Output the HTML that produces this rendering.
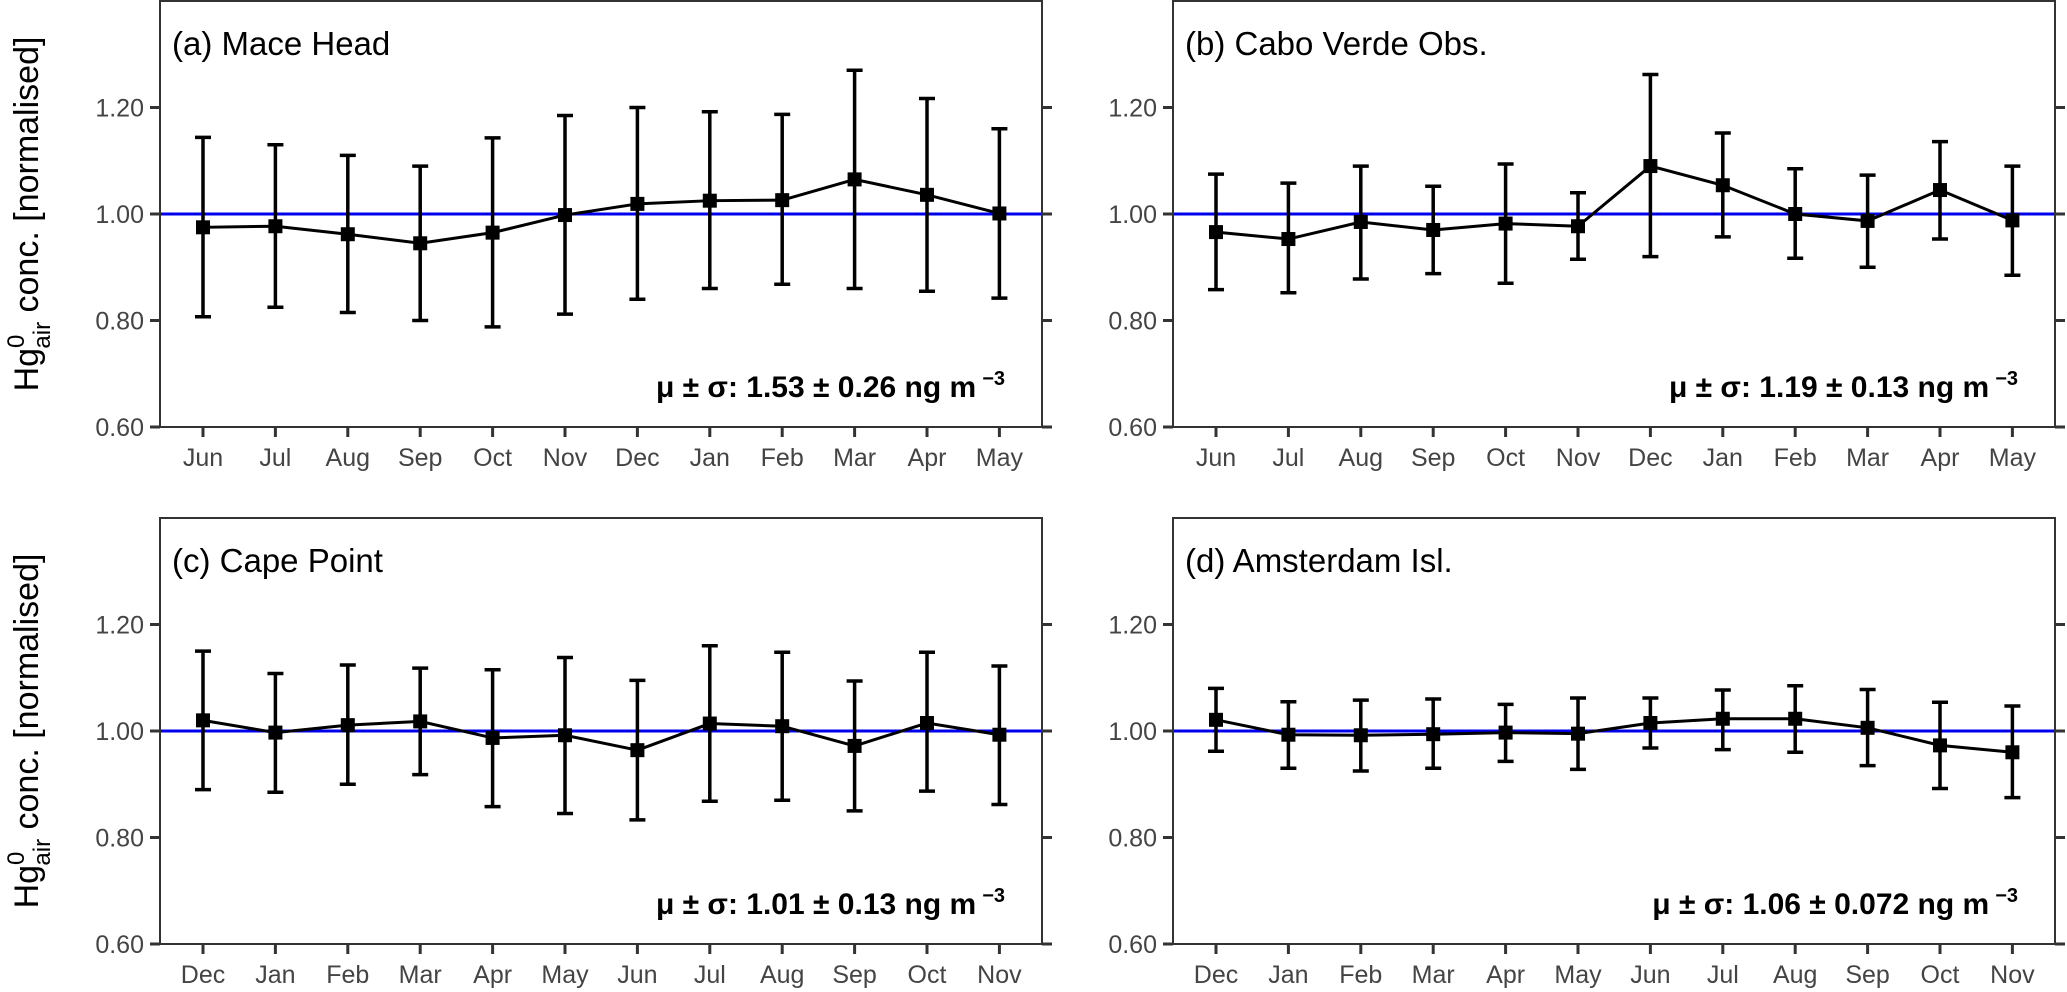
<!DOCTYPE html>
<html><head><meta charset="utf-8"><style>
html,body{margin:0;padding:0;background:#fff}
svg{display:block;font-family:"Liberation Sans",sans-serif}
</style></head><body>
<svg id="chart" width="2067" height="992" viewBox="0 0 2067 992"></svg>
<script>
const monthsA = ["Jun","Jul","Aug","Sep","Oct","Nov","Dec","Jan","Feb","Mar","Apr","May"];
const monthsC = ["Dec","Jan","Feb","Mar","Apr","May","Jun","Jul","Aug","Sep","Oct","Nov"];
const yTicks = [0.6,0.8,1.0,1.2];
const yTickLabels = ["0.60","0.80","1.00","1.20"];
const titles = ["(a) Mace Head","(b) Cabo Verde Obs.","(c) Cape Point","(d) Amsterdam Isl."];
const stats = ["μ ± σ: 1.53 ± 0.26 ng m","μ ± σ: 1.19 ± 0.13 ng m","μ ± σ: 1.01 ± 0.13 ng m","μ ± σ: 1.06 ± 0.072 ng m"];
const meanA = [0.975,0.977,0.962,0.945,0.965,0.998,1.019,1.025,1.026,1.065,1.036,1.001];
const upA = [1.144,1.13,1.11,1.09,1.143,1.185,1.20,1.192,1.187,1.27,1.217,1.16];
const loA = [0.807,0.825,0.815,0.80,0.788,0.812,0.84,0.86,0.868,0.86,0.855,0.842];
const meanB = [0.966,0.953,0.985,0.97,0.982,0.977,1.09,1.054,1.0,0.987,1.045,0.988];
const upB = [1.075,1.058,1.09,1.052,1.094,1.04,1.262,1.152,1.085,1.073,1.136,1.09];
const loB = [0.858,0.852,0.878,0.888,0.87,0.915,0.92,0.957,0.917,0.90,0.953,0.885];
const meanC = [1.02,0.997,1.011,1.018,0.987,0.992,0.964,1.014,1.009,0.972,1.015,0.993];
const upC = [1.15,1.108,1.124,1.118,1.115,1.138,1.095,1.16,1.148,1.094,1.148,1.122];
const loC = [0.89,0.885,0.90,0.918,0.858,0.845,0.833,0.868,0.87,0.85,0.887,0.862];
const meanD = [1.021,0.993,0.992,0.994,0.997,0.995,1.015,1.023,1.023,1.006,0.973,0.96];
const upD = [1.08,1.055,1.058,1.06,1.05,1.062,1.062,1.077,1.085,1.078,1.054,1.047];
const loD = [0.962,0.93,0.925,0.93,0.943,0.928,0.968,0.965,0.96,0.935,0.892,0.875];

const NS="http://www.w3.org/2000/svg";
const svg=document.getElementById('chart');
function mk(tag,attrs,parent){const e=document.createElementNS(NS,tag);for(const k in attrs)e.setAttribute(k,attrs[k]);(parent||svg).appendChild(e);return e;}

const panels=[
 {x:160,y:1,months:monthsA,m:meanA,u:upA,l:loA},
 {x:1173,y:1,months:monthsA,m:meanB,u:upB,l:loB},
 {x:160,y:518,months:monthsC,m:meanC,u:upC,l:loC},
 {x:1173,y:518,months:monthsC,m:meanD,u:upD,l:loD}
];
const W=882,H=426;
panels.forEach((p,pi)=>{
  const g=mk('g',{});
  
  
  const ys=v=>p.y+H-(v-0.6)/0.8*H;
  const xs=i=>p.x+43+i*72.4;
  const ref=mk('line',{x1:p.x,x2:p.x+W,y1:ys(1),y2:ys(1),stroke:'#0000ee','stroke-width':3},g);
  
  
  const fr=mk('rect',{x:p.x,y:p.y,width:W,height:H,fill:'none',stroke:'#333','stroke-width':2},g);
  
  
  yTicks.forEach((t,i)=>{
    mk('line',{x1:p.x-10,x2:p.x,y1:ys(t),y2:ys(t),stroke:'#333','stroke-width':3},g);
    mk('line',{x1:p.x+W,x2:p.x+W+10,y1:ys(t),y2:ys(t),stroke:'#333','stroke-width':3},g);
    const tx=mk('text',{x:p.x-16,y:ys(t)+9,'text-anchor':'end','font-size':25,fill:'#444'},g);
    tx.textContent=yTickLabels[i];
    
    
  });
  p.months.forEach((mo,i)=>{
    mk('line',{x1:xs(i),x2:xs(i),y1:p.y+H,y2:p.y+H+10,stroke:'#333','stroke-width':3},g);
    const tx=mk('text',{x:xs(i),y:p.y+H+39,'text-anchor':'middle','font-size':25,fill:'#444'},g);
    tx.textContent=mo;
    
    
  });
  p.m.forEach((v,i)=>{
    const eb=mk('path',{d:`M${xs(i)},${ys(p.u[i])}V${ys(p.l[i])}M${xs(i)-8},${ys(p.u[i])}h16M${xs(i)-8},${ys(p.l[i])}h16`,stroke:'#000','stroke-width':3.5,fill:'none'},g);
    
    
  });
  const ln=mk('polyline',{points:p.m.map((v,i)=>xs(i)+','+ys(v)).join(' '),fill:'none',stroke:'#000','stroke-width':3},g);
  
  
  p.m.forEach((v,i)=>{
    const r=mk('rect',{x:xs(i)-7,y:ys(v)-7,width:14,height:14,fill:'#000'},g);
    
    
  });
  const tt=mk('text',{x:p.x+12,y:p.y+54,'font-size':33,fill:'#000'},g);
  tt.textContent=titles[pi];
  
  
  const st=mk('text',{x:p.x+W-37,y:p.y+H-30,'text-anchor':'end','font-size':30,'font-weight':'bold',fill:'#000'},g);
  
  
  const t1=mk('tspan',{},st);t1.textContent=stats[pi]+'\u2009';
  const t2=mk('tspan',{dy:-12,'font-size':20},st);t2.textContent='−3';
});
[214,731].forEach(cy=>{
  const t=mk('text',{transform:`translate(38,${cy}) rotate(-90)`,'text-anchor':'middle','font-size':34,fill:'#000'});
  
  
  const a=mk('tspan',{},t);a.textContent='Hg';
  const b=mk('tspan',{dy:-14,'font-size':24},t);b.textContent='0';
  const c=mk('tspan',{dx:-14,dy:26,'font-size':24},t);c.textContent='air';
  const d=mk('tspan',{dy:-12},t);d.textContent=' conc. [normalised]';
});
</script>
</body></html>
